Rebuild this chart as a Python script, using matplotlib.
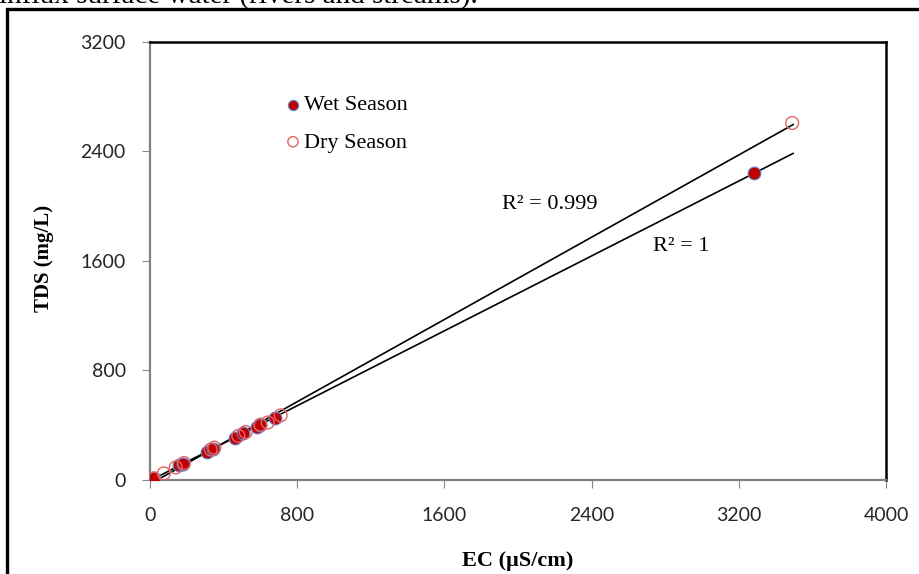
import numpy as np
import matplotlib.pyplot as plt
from matplotlib.patches import Rectangle

# EC (uS/cm) e TDS (mg/L)
ec_wet = [10, 22, 160, 180, 310, 340, 460, 505, 580, 600, 680, 3283]
tds_wet = [6, 13, 108, 120, 208, 228, 308, 342, 388, 402, 455, 2243]
ec_dry = [20, 75, 140, 185, 330, 350, 480, 520, 600, 640, 710, 3490]
tds_dry = [12, 48, 92, 124, 222, 236, 322, 350, 404, 420, 472, 2608]

xticks = [0, 800, 1600, 2400, 3200, 4000]
yticks = [0, 800, 1600, 2400, 3200]

fig = plt.figure(figsize=(9.19, 5.74), dpi=100)
ax = fig.add_axes([0.1632, 0.1638, 0.8009, 0.7631])

# bordo della figura (solo sinistra e sopra visibili)
fig.patches.append(Rectangle((0.0076, -0.2), 1.2, 1.184, transform=fig.transFigure,
                             fill=False, edgecolor="black", linewidth=2.4))
fig.text(-0.001, 0.993, "influx surface water (rivers and streams).", ha="left", va="baseline",
         fontsize=21, family="Liberation Serif")

# rette di regressione
for ec, tds in [(ec_wet, tds_wet), (ec_dry, tds_dry)]:
    m, q = np.polyfit(ec, tds, 1)
    xs = np.array([min(ec), 3495])
    ax.plot(xs, m * xs + q, color="black", linewidth=1.2, zorder=2)

ax.scatter(ec_wet, tds_wet, s=85, c="#C00000", edgecolors="#5B8BD0", linewidths=0.8,
           zorder=3, label="Wet Season")
ax.scatter(ec_dry, tds_dry, s=85, facecolors="none", edgecolors="#E06666", linewidths=1.0,
           zorder=3, label="Dry Season")

ax.set_xlim(0, 4000)
ax.set_ylim(0, 3200)
ax.set_xticks(xticks)
ax.set_yticks(yticks)
ax.tick_params(direction="out", length=5.5, color="#888888", labelsize=14,
               labelcolor="#262626")
ax.tick_params(axis="x", pad=14)
ax.tick_params(axis="y", pad=12)
for lab in ax.get_xticklabels() + ax.get_yticklabels():
    lab.set_family("Lato")

for s in ["left", "bottom"]:
    ax.spines[s].set_color("#808080")
    ax.spines[s].set_linewidth(1.6)
for s in ["top", "right"]:
    ax.spines[s].set_color("black")
    ax.spines[s].set_linewidth(1.8)

ax.set_xlabel("EC (\u00b5S/cm)", fontsize=16, fontweight="bold", family="Liberation Serif")
ax.set_ylabel("TDS (mg/L)", fontsize=15, fontweight="bold", family="Liberation Serif")
ax.xaxis.set_label_coords(0.5, -0.162)
ax.yaxis.set_label_coords(-0.131, 0.505)

ax.legend(loc="upper left", bbox_to_anchor=(0.152, 0.925), frameon=False, handletextpad=0.0,
          labelspacing=0.75, prop={"family": "Liberation Serif", "size": 16}, markerscale=0.8,
          handlelength=1.0)

ax.text(0.478, 0.628, "R\u00b2 = 0.999", transform=ax.transAxes, fontsize=16,
        family="Liberation Serif", va="center", ha="left")
ax.text(0.684, 0.533, "R\u00b2 = 1", transform=ax.transAxes, fontsize=16,
        family="Liberation Serif", va="center", ha="left")

plt.savefig("out.png", dpi=100)
